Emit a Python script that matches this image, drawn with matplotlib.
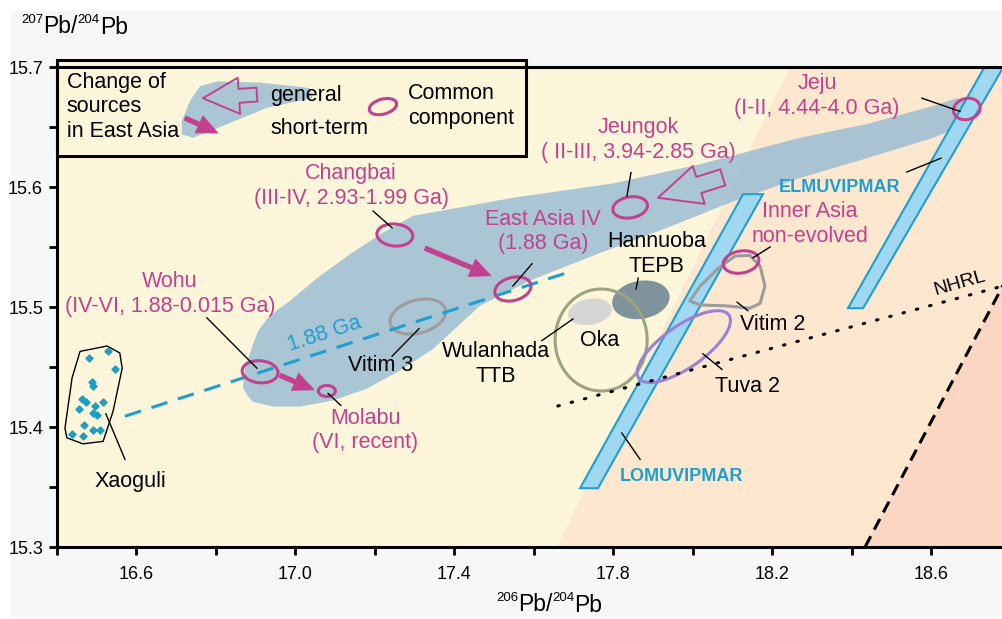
import numpy as np
import matplotlib
matplotlib.use('Agg')
import matplotlib.pyplot as plt
from matplotlib.patches import Polygon, Ellipse, Rectangle
from matplotlib.transforms import IdentityTransform, ScaledTranslation

plt.rcParams['font.family'] = 'Liberation Sans'

# ---- axis ticks ----
x_ticks = [16.4, 16.6, 16.8, 17.0, 17.2, 17.4, 17.6, 17.8, 18.0, 18.2, 18.4, 18.6]
x_labels = ['', '16.6', '', '17.0', '', '17.4', '', '17.8', '', '18.2', '', '18.6']
y_ticks = [15.3, 15.35, 15.4, 15.45, 15.5, 15.55, 15.6, 15.65, 15.7]
y_labels = ['15.3', '', '15.4', '', '15.5', '', '15.6', '', '15.7']

# ---- field boundaries ----
peach_x = [17.658, 18.244]          # boundary yellow / peach (bottom, top)
peach_y = [15.3, 15.7]
geochron_x = [18.433, 18.78]         # dashed black line
geochron_y = [15.3, 15.518]
nhrl_x = [17.66, 18.78]
nhrl_y = [15.4175, 15.5175]
ga188_x = [16.571, 17.678]
ga188_y = [15.409, 15.528]

# ---- big East Asia field (blue) ----
field_x = [18.727, 18.709, 18.664, 18.604, 18.438, 18.269, 18.018, 17.799, 17.547,
           17.431, 17.296, 17.220, 17.137, 17.054, 16.986, 16.956, 16.928, 16.906,
           16.893, 16.873, 16.868, 16.880, 16.893, 16.943, 17.011, 17.094, 17.180,
           17.263, 17.346, 17.464, 17.590, 17.766, 17.935, 18.101, 18.269, 18.438,
           18.604, 18.689]
field_y = [15.663, 15.672, 15.674, 15.6675, 15.6525, 15.641, 15.619, 15.603, 15.591,
           15.584, 15.576, 15.562, 15.544, 15.524, 15.505, 15.498, 15.490, 15.480,
           15.469, 15.449, 15.4325, 15.4258, 15.421, 15.417, 15.417, 15.422, 15.432,
           15.447, 15.465, 15.501, 15.522, 15.545, 15.566, 15.588, 15.6075, 15.624,
           15.641, 15.6525]

# legend blob
blob_x = [16.714, 16.714, 16.735, 16.760, 16.803, 16.911, 17.036, 17.042, 16.928, 16.803, 16.742]
blob_y = [15.644, 15.655, 15.672, 15.684, 15.688, 15.687, 15.6825, 15.674, 15.666, 15.649, 15.641]

# ---- MORB bands ----
lomu_x = [17.716, 17.761, 18.176, 18.126]
lomu_y = [15.349, 15.349, 15.594, 15.594]
elmu_x = [18.390, 18.428, 18.790, 18.742]
elmu_y = [15.499, 15.499, 15.705, 15.705]

# ---- Xaoguli data ----
xao_x = [16.528, 16.481, 16.546, 16.488, 16.491, 16.463, 16.473, 16.516, 16.496,
         16.455, 16.491, 16.501, 16.468, 16.491, 16.508, 16.438, 16.465]
xao_y = [15.463, 15.4575, 15.448, 15.4375, 15.434, 15.423, 15.421, 15.421, 15.4175,
         15.415, 15.412, 15.410, 15.4017, 15.3975, 15.3975, 15.394, 15.3925]
xao_env_x = [16.458, 16.526, 16.558, 16.564, 16.541, 16.516, 16.465, 16.425, 16.420, 16.438]
xao_env_y = [15.463, 15.4675, 15.4617, 15.449, 15.413, 15.388, 15.386, 15.391, 15.399, 15.441]

# Vitim 2 field
vit2_x = [17.992, 18.018, 18.063, 18.106, 18.143, 18.169, 18.181, 18.169, 18.143, 18.081, 18.018]
vit2_y = [15.505, 15.5175, 15.532, 15.5425, 15.543, 15.534, 15.5175, 15.503, 15.499, 15.501, 15.5017]

# common components (magenta rings): name, x, y
comp_names = ['Jeju', 'Jeungok', 'Changbai', 'East Asia IV', 'Wohu', 'Molabu', 'Inner Asia']
comp_x = [18.689, 17.842, 17.250, 17.547, 16.911, 17.079, 18.121]
comp_y = [15.665, 15.583, 15.560, 15.515, 15.446, 15.430, 15.5375]

MAG = '#c2418f'
CYAN = '#1e9fd2'
YEL = '#fdf6da'

fig = plt.figure(figsize=(10.03, 6.19), dpi=100)
fig.patch.set_facecolor('white')
fig.patches.append(Rectangle((11 / 1003, 2 / 619), 992 / 1003, 606 / 619,
                             transform=fig.transFigure, color='#f7f7f7', zorder=-10))
ax = fig.add_axes([57 / 1003, 72 / 619, 946 / 1003, 480 / 619])
ax.set_xlim(16.4, 18.78)
ax.set_ylim(15.3, 15.7)
ax.set_facecolor(YEL)

# background fields
ax.fill([peach_x[0], peach_x[1], 18.9, 18.9], [15.3, 15.7, 15.7, 15.3],
        color='#fde7cf', lw=0, zorder=0.2)
slope = (geochron_y[1] - geochron_y[0]) / (geochron_x[1] - geochron_x[0])
ax.fill([geochron_x[0], 18.9, 18.9], [15.3, 15.3 + slope * (18.9 - geochron_x[0]), 15.3],
        color='#fcd6c2', lw=0, zorder=0.3)
ax.plot(geochron_x, geochron_y, color='black', lw=2.2, ls=(0, (4, 2.4)), zorder=3)

# East Asia field
ax.add_patch(Polygon(np.column_stack([field_x, field_y]), closed=True,
                     fc='#9cbdd3', alpha=0.85, ec='none', zorder=1))

# MORB bands
for bx, by in [(lomu_x, lomu_y), (elmu_x, elmu_y)]:
    ax.add_patch(Polygon(np.column_stack([bx, by]), closed=True,
                         fc='#9fd8f0', ec=CYAN, lw=1.5, zorder=2))

# NHRL and 1.88 Ga line
ax.plot(nhrl_x, nhrl_y, color='black', lw=2.2, ls=(0, (0.5, 4)),
        dash_capstyle='round', zorder=4)
ax.plot(ga188_x, ga188_y, color=CYAN, lw=2.2, ls=(0, (5.5, 3.6)), zorder=4)


def ring(x, y, w, h, ang, z=5, **kw):
    tr = IdentityTransform() + ScaledTranslation(x, y, ax.transData)
    ax.add_patch(Ellipse((0, 0), w, h, angle=ang, transform=tr, zorder=z, **kw))


# filled fields
ring(17.869, 15.506, 58, 38, 10, z=3, fc='#7f939d', ec='none')
ring(17.741, 15.496, 44, 26, 10, z=3, fc='#d6d6d6', ec='none')
ring(17.769, 15.4725, 92, 102, 0, z=3.5, fc='none', ec='#9ba37f', lw=2.2)
ring(17.308, 15.492, 57, 33, 15, z=3.5, fc='none', ec='#9c9c9c', lw=2.2)
ring(17.977, 15.467, 110, 42, 35, z=3.5, fc='none', ec='#9a80d6', lw=2.2)
ax.add_patch(Polygon(np.column_stack([vit2_x, vit2_y]), closed=True, fc='none',
                     ec='#9c9c9c', lw=2.2, zorder=3.5, joinstyle='round'))

ring_sizes = [(27, 21, 15), (35, 21, 10), (36, 22, -5), (37, 23, 15),
              (36, 22, -5), (17, 11, 0), (36, 22, 10)]
for cx, cy, (w, h, a) in zip(comp_x, comp_y, ring_sizes):
    ring(cx, cy, w, h, a, fc='none', ec=MAG, lw=2.2)

# Xaoguli
ax.add_patch(Polygon(np.column_stack([xao_env_x, xao_env_y]), closed=True, fc='none',
                     ec='black', lw=1.0, joinstyle='round', zorder=4))
ax.scatter(xao_x, xao_y, marker='D', s=13, color='#1e9fc0', zorder=5)

# arrows
def arrow(tail, tip, hollow=False, scale=15):
    if hollow:
        props = dict(arrowstyle='simple,head_length=1.4,head_width=1.3,tail_width=0.55',
                     fc='none', ec=MAG, lw=1.4, mutation_scale=scale,
                     shrinkA=0, shrinkB=0)
    else:
        props = dict(arrowstyle='simple,head_length=1.0,head_width=0.9,tail_width=0.22',
                     fc=MAG, ec=MAG, lw=0.5, mutation_scale=scale,
                     shrinkA=0, shrinkB=0)
    ax.annotate('', xy=tip, xytext=tail, arrowprops=props, zorder=6)


arrow((17.326, 15.549), (17.492, 15.526))
arrow((16.961, 15.443), (17.047, 15.431))
arrow((18.075, 15.608), (17.912, 15.591), hollow=True, scale=22)

# leader lines
leaders = [((18.576, 15.674), (18.672, 15.663)),
           ((18.538, 15.6125), (18.624, 15.624)),
           ((17.844, 15.612), (17.834, 15.5925)),
           ((17.195, 15.580), (17.243, 15.566)),
           ((17.595, 15.536), (17.547, 15.5175)),
           ((16.777, 15.491), (16.903, 15.449)),
           ((17.082, 15.428), (17.114, 15.418)),
           ((16.523, 15.411), (16.571, 15.373)),
           ((17.243, 15.459), (17.311, 15.482)),
           ((17.620, 15.472), (17.698, 15.490)),
           ((17.862, 15.524), (17.857, 15.515)),
           ((18.194, 15.550), (18.151, 15.541)),
           ((18.111, 15.504), (18.138, 15.497)),
           ((18.025, 15.461), (18.073, 15.448)),
           ((17.821, 15.395), (17.867, 15.373))]
for (x0, y0), (x1, y1) in leaders:
    ax.plot([x0, x1], [y0, y1], color='black', lw=1.0, zorder=5.5)

# labels
tk = dict(ha='center', va='center', fontsize=15.5, linespacing=1.22, zorder=7)
ax.text(18.312, 15.676, 'Jeju\n(I-II, 4.44-4.0 Ga)', color=MAG, **tk)
ax.text(17.862, 15.639, 'Jeungok\n( II-III, 3.94-2.85 Ga)', color=MAG, **tk)
ax.text(17.140, 15.601, 'Changbai\n(III-IV, 2.93-1.99 Ga)', color=MAG, **tk)
ax.text(17.623, 15.563, 'East Asia IV\n(1.88 Ga)', color=MAG, **tk)
ax.text(16.684, 15.511, 'Wohu\n(IV-VI, 1.88-0.015 Ga)', color=MAG, **tk)
ax.text(17.175, 15.397, 'Molabu\n(VI, recent)', color=MAG, **tk)
ax.text(18.294, 15.569, 'Inner Asia\nnon-evolved', color=MAG, **tk)
ax.text(17.909, 15.544, 'Hannuoba\nTEPB', color='black', **tk)
ax.text(17.766, 15.4725, 'Oka', color='black', **tk)
ax.text(17.504, 15.4525, 'Wulanhada\nTTB', color='black', **tk)
ax.text(17.213, 15.451, 'Vitim 3', color='black', **tk)
ax.text(18.201, 15.485, 'Vitim 2', color='black', **tk)
ax.text(18.138, 15.434, 'Tuva 2', color='black', **tk)
ax.text(16.584, 15.355, 'Xaoguli', color='black', **tk)
ax.text(18.370, 15.600, 'ELMUVIPMAR', color=CYAN, fontsize=13, fontweight='bold',
        ha='center', va='center', zorder=7)
ax.text(17.972, 15.359, 'LOMUVIPMAR', color=CYAN, fontsize=13, fontweight='bold',
        ha='center', va='center', zorder=7)
ax.text(17.074, 15.4775, '1.88 Ga', color=CYAN, fontsize=15.5, rotation=18,
        ha='center', va='center', zorder=7)
ax.text(18.672, 15.520, 'NHRL', color='black', fontsize=14, rotation=16,
        ha='center', va='center', zorder=7)

# legend box
ax.add_patch(Rectangle((16.4, 15.626), 1.18, 0.08, fc=YEL, ec='black', lw=2.2,
                       zorder=8, clip_on=False))
ax.add_patch(Polygon(np.column_stack([blob_x, blob_y]), closed=True,
                     fc='#9cbdd3', alpha=0.85, ec='none', zorder=8.5))
ax.annotate('', xy=(16.767, 15.674), xytext=(16.903, 15.677), zorder=9,
            arrowprops=dict(arrowstyle='simple,head_length=1.3,head_width=1.3,tail_width=0.5',
                            fc='none', ec=MAG, lw=1.4, mutation_scale=20,
                            shrinkA=0, shrinkB=0))
ax.annotate('', xy=(16.805, 15.645), xytext=(16.722, 15.6575), zorder=9,
            arrowprops=dict(arrowstyle='simple,head_length=1.0,head_width=0.9,tail_width=0.22',
                            fc=MAG, ec=MAG, lw=0.5, mutation_scale=15,
                            shrinkA=0, shrinkB=0))
ring(17.220, 15.667, 28, 15, 15, z=9, fc='none', ec=MAG, lw=2.2)
lk = dict(va='center', fontsize=15.5, linespacing=1.22, zorder=9)
ax.text(16.425, 15.667, 'Change of\nsources\nin East Asia', ha='left', **lk)
ax.text(16.936, 15.676, 'general', ha='left', **lk)
ax.text(16.936, 15.649, 'short-term', ha='left', **lk)
ax.text(17.283, 15.6675, 'Common\ncomponent', ha='left', **lk)

# axes styling
ax.spines['right'].set_visible(False)
for s in ['left', 'bottom', 'top']:
    ax.spines[s].set_linewidth(2.2)
    ax.spines[s].set_zorder(10)
ax.set_xticks(x_ticks)
ax.set_xticklabels(x_labels)
ax.set_yticks(y_ticks)
ax.set_yticklabels(y_labels)
ax.tick_params(axis='both', direction='out', length=6, width=2, labelsize=13)
ax.tick_params(axis='x', pad=8)
ax.tick_params(axis='y', pad=4)


# isotope ratio labels: small superscript mass numbers, large "Pb"
def iso_label(x0, base, m1, m2):
    t = fig.text(x0, base, m1, fontsize=9.5, va='baseline')
    t = fig.add_artist(plt.Annotation('Pb/', xy=(1, 0), xycoords=t, xytext=(0, -5.2),
                                      textcoords='offset points', fontsize=16.5,
                                      va='baseline'))
    t = fig.add_artist(plt.Annotation(m2, xy=(1, 0), xycoords=t, xytext=(0, 10.7),
                                      textcoords='offset points', fontsize=9.5,
                                      va='baseline'))
    fig.add_artist(plt.Annotation('Pb', xy=(1, 0), xycoords=t, xytext=(0, -5.2),
                                  textcoords='offset points', fontsize=16.5,
                                  va='baseline'))


iso_label(21 / 1003, 1 - 23 / 619, '207', '204')
iso_label(496 / 1003, 1 - 601 / 619, '206', '204')

fig.savefig('out.png', dpi=100, facecolor=fig.get_facecolor())
